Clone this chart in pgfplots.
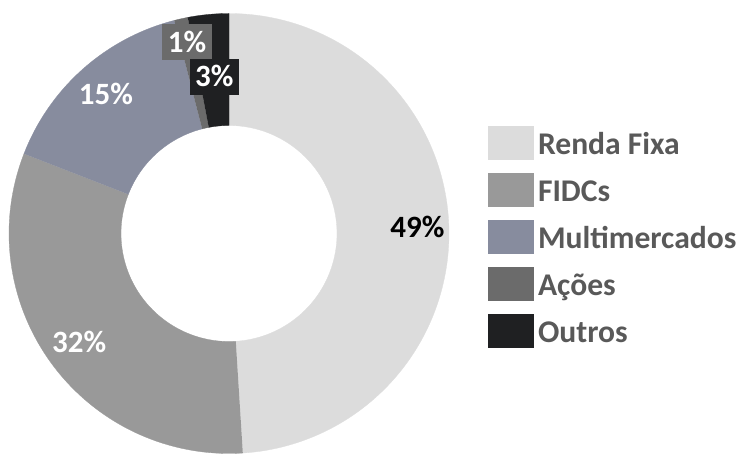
\documentclass[border=0pt]{standalone}
\usepackage{pgfplots}
\pgfplotsset{compat=1.18}
\usepackage{fontspec}
\setmainfont{Carlito}
\definecolor{cRF}{HTML}{DCDCDC}
\definecolor{cFI}{HTML}{999999}
\definecolor{cMM}{HTML}{878C9E}
\definecolor{cAC}{HTML}{6B6B6B}
\definecolor{cOU}{HTML}{1F2022}
\definecolor{legtext}{HTML}{595959}
\newcommand\lbl{\fontsize{31bp}{37bp}\selectfont\bfseries}
\newcommand\leg{\fontsize{31.6bp}{37bp}\selectfont\bfseries}
% shares in percent
\def\vRF{49.0}
\def\vFI{31.9}
\def\vMM{15.1}
\def\vAC{1.0}
\def\vOU{3.0}
% ring sector: colour, cumulative start, cumulative end (percent, clockwise from top)
\newcommand{\sector}[3]{%
\addplot[fill=#1, draw=#1, line width=0.3bp, samples at={0,1,...,241}, variable=\t, forget plot]
 ({229+(\t<=120.5 ? 220 : 108)*cos(90-3.6*(\t<=120.5 ? (#2)+((#3)-(#2))*\t/120 : (#3)-((#3)-(#2))*(\t-121)/120))},
  {220.5+(\t<=120.5 ? 220 : 108)*sin(90-3.6*(\t<=120.5 ? (#2)+((#3)-(#2))*\t/120 : (#3)-((#3)-(#2))*(\t-121)/120))});
}
\begin{document}
\begin{tikzpicture}
\begin{axis}[
  width=747bp, height=454bp, scale only axis,
  xmin=0, xmax=747, ymin=0, ymax=454,
  hide axis, clip=false,
  legend image code/.code={\fill[#1] (0bp,-15bp) rectangle (46bp,19bp);},
  legend cell align=left,
  legend style={at={(0.6533,0.7225)}, anchor=north west, draw=none, fill=none,
    inner sep=0pt, outer sep=0pt, row sep=13bp, column sep=4bp,
    nodes={inner sep=0pt, text height=20bp, text depth=0pt, font=\leg, text=legtext}},
]
\path (rel axis cs:0,0) rectangle (rel axis cs:1,1);
\sector{cRF}{0}{\vRF}
\sector{cFI}{\vRF}{\vRF+\vFI}
\sector{cMM}{\vRF+\vFI}{\vRF+\vFI+\vMM}
\sector{cAC}{\vRF+\vFI+\vMM}{\vRF+\vFI+\vMM+\vAC}
\sector{cOU}{\vRF+\vFI+\vMM+\vAC}{100}
\addlegendimage{fill=cRF, draw=none}\addlegendentry{Renda Fixa}
\addlegendimage{fill=cFI, draw=none}\addlegendentry{FIDCs}
\addlegendimage{fill=cMM, draw=none}\addlegendentry{Multimercados}
\addlegendimage{fill=cAC, draw=none}\addlegendentry{Ações}
\addlegendimage{fill=cOU, draw=none}\addlegendentry{Outros}
\tikzset{pct/.style={font=\lbl, inner sep=0pt, text height=20bp, text depth=0pt}}
\node[pct, text=black] at (axis cs:417.5,226.7) {49\%};
\node[pct, text=white] at (axis cs:79.2,111.7) {32\%};
\node[pct, text=white] at (axis cs:106,359) {15\%};
\node[pct, text=white, fill=cAC, inner xsep=5.5bp, inner ysep=8bp] at (axis cs:187,411.5) {1\%};
\node[pct, text=white, fill=cOU, inner xsep=5.5bp, inner ysep=8bp] at (axis cs:214.2,377) {3\%};
\end{axis}
\end{tikzpicture}
\end{document}
